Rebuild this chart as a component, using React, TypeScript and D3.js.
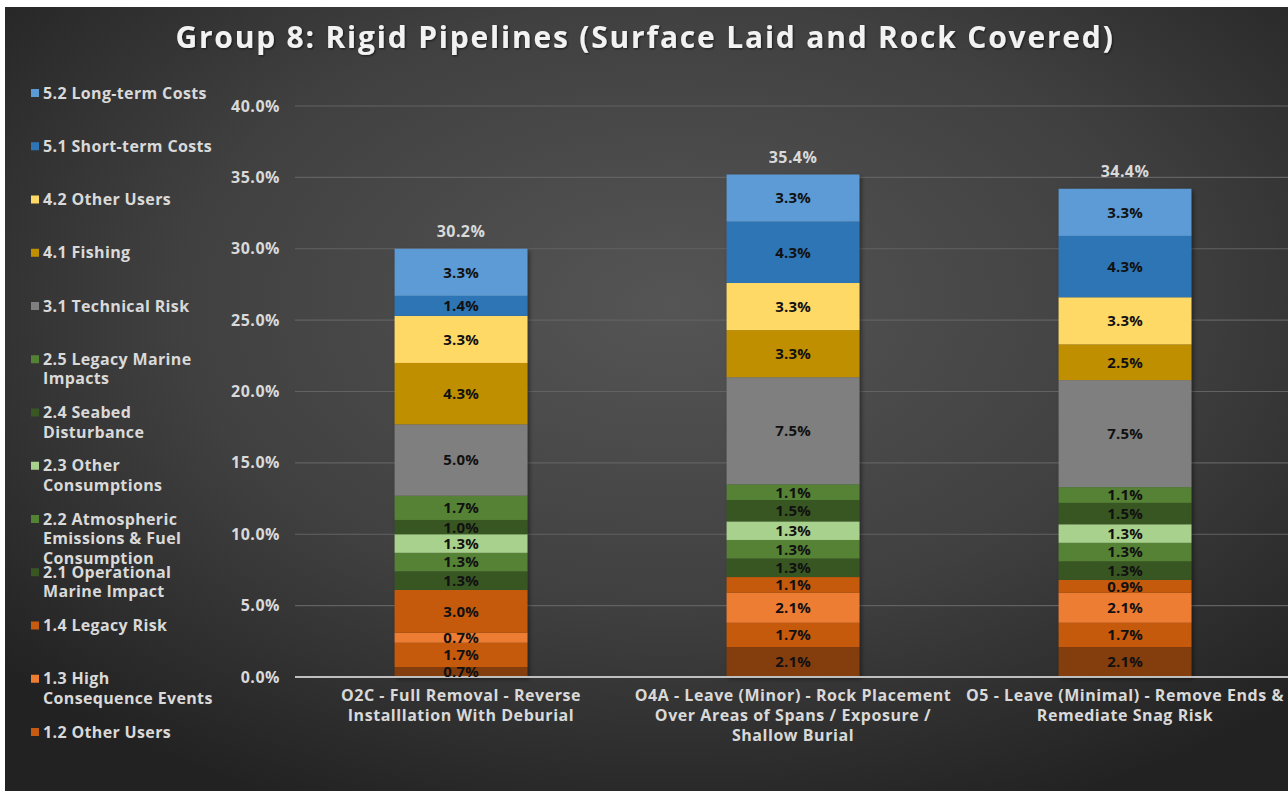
import * as d3 from 'd3'

const categories = [
  ['O2C - Full Removal - Reverse', 'Installlation With Deburial'],
  ['O4A - Leave (Minor) - Rock Placement', 'Over Areas of Spans / Exposure /', 'Shallow Burial'],
  ['O5 - Leave (Minimal) - Remove Ends &', 'Remediate Snag Risk'],
]

// stacking order, bottom to top
const seriesKeys = [
  '1.1', '1.2 Other Users', '1.3 High Consequence Events', '1.4 Legacy Risk',
  '2.1 Operational Marine Impact', '2.2 Atmospheric Emissions & Fuel Consumption',
  '2.3 Other Consumptions', '2.4 Seabed Disturbance', '2.5 Legacy Marine Impacts',
  '3.1 Technical Risk', '4.1 Fishing', '4.2 Other Users',
  '5.1 Short-term Costs', '5.2 Long-term Costs',
]
const seriesColors = [
  '#843c0c', '#c55a11', '#ed7d31', '#c55a11',
  '#385723', '#548235', '#a9d18e', '#385723', '#548235',
  '#7f7f7f', '#bf8f00', '#ffd966', '#2e75b6', '#5b9bd5',
]
const s11 = [0.7, 2.1, 2.1]
const s12 = [1.7, 1.7, 1.7]
const s13 = [0.7, 2.1, 2.1]
const s14 = [3.0, 1.1, 0.9]
const s21 = [1.3, 1.3, 1.3]
const s22 = [1.3, 1.3, 1.3]
const s23 = [1.3, 1.3, 1.3]
const s24 = [1.0, 1.5, 1.5]
const s25 = [1.7, 1.1, 1.1]
const s31 = [5.0, 7.5, 7.5]
const s41 = [4.3, 3.3, 2.5]
const s42 = [3.3, 3.3, 3.3]
const s51 = [1.4, 4.3, 4.3]
const s52 = [3.3, 3.3, 3.3]
const seriesValues = [s11, s12, s13, s14, s21, s22, s23, s24, s25, s31, s41, s42, s51, s52]
const totals = [30.2, 35.4, 34.4]

// legend as shown (top to bottom), 1.1 is cut off in the original
const legendItems = [
  { key: '5.2 Long-term Costs', lines: ['5.2 Long-term Costs'] },
  { key: '5.1 Short-term Costs', lines: ['5.1 Short-term Costs'] },
  { key: '4.2 Other Users', lines: ['4.2 Other Users'] },
  { key: '4.1 Fishing', lines: ['4.1 Fishing'] },
  { key: '3.1 Technical Risk', lines: ['3.1 Technical Risk'] },
  { key: '2.5 Legacy Marine Impacts', lines: ['2.5 Legacy Marine', 'Impacts'] },
  { key: '2.4 Seabed Disturbance', lines: ['2.4 Seabed', 'Disturbance'] },
  { key: '2.3 Other Consumptions', lines: ['2.3 Other', 'Consumptions'] },
  { key: '2.2 Atmospheric Emissions & Fuel Consumption', lines: ['2.2 Atmospheric', 'Emissions & Fuel', 'Consumption'] },
  { key: '2.1 Operational Marine Impact', lines: ['2.1 Operational', 'Marine Impact'] },
  { key: '1.4 Legacy Risk', lines: ['1.4 Legacy Risk'] },
  { key: '1.3 High Consequence Events', lines: ['1.3 High', 'Consequence Events'] },
  { key: '1.2 Other Users', lines: ['1.2 Other Users'] },
]
const yTicks = [0, 5, 10, 15, 20, 25, 30, 35, 40]

const W = 1288
const H = 791
const FONT = "'Open Sans', 'DejaVu Sans', sans-serif"

export default function App() {
  const rows = categories.map((c, i) => {
    const r: Record<string, number> = { idx: i }
    seriesKeys.forEach((k, j) => { r[k] = seriesValues[j][i] })
    return r
  })
  const stacked = d3.stack<Record<string, number>>().keys(seriesKeys)(rows)

  const x = d3.scaleBand<number>()
    .domain(categories.map((_, i) => i))
    .range([295, 1291])
    .paddingInner(0.6)
    .paddingOuter(0.3)
  const y = d3.scaleLinear().domain([0, 40]).range([677, 106])
  const color = d3.scaleOrdinal<string, string>().domain(seriesKeys).range(seriesColors)
  const cx = (i: number) => (x(i) ?? 0) + x.bandwidth() / 2

  return (
    <svg width={W} height={H} style={{ position: 'fixed', left: 0, top: 0, fontFamily: FONT }}>
      <defs>
        <radialGradient id="bg" cx="52%" cy="38%" r="70%">
          <stop offset="0%" stopColor="#555555" />
          <stop offset="55%" stopColor="#404040" />
          <stop offset="100%" stopColor="#222222" />
        </radialGradient>
        <filter id="shadow" x="-10%" y="-10%" width="130%" height="130%">
          <feDropShadow dx="2" dy="2" stdDeviation="2" floodColor="#000" floodOpacity="0.45" />
        </filter>
        <filter id="tshadow">
          <feDropShadow dx="1" dy="1" stdDeviation="1" floodColor="#000" floodOpacity="0.6" />
        </filter>
      </defs>
      <rect width={W} height={H} fill="#ffffff" />
      <rect x={5} y={7} width={W - 5} height={H - 7} fill="url(#bg)" />

      <text x={645} y={48} textAnchor="middle" fill="#f2f2f2" fontSize={30} fontWeight={700}
        letterSpacing={1.8} filter="url(#tshadow)">
        Group 8: Rigid Pipelines (Surface Laid and Rock Covered)
      </text>

      {yTicks.map(t => (
        <g key={t}>
          {t > 0 && <line x1={295} x2={W} y1={y(t)} y2={y(t)} stroke="#626262" strokeWidth={1.2} />}
          <text x={280} y={y(t)} dy="0.35em" textAnchor="end" fill="#d9d9d9" fontSize={16} fontWeight={700}
            letterSpacing={0.5}>
            {d3.format('.1f')(t)}%
          </text>
        </g>
      ))}

      <g filter="url(#shadow)">
        {stacked.map(s => (
          <g key={s.key} fill={color(s.key)}>
            {s.map((d, i) => (
              <rect key={i} x={x(i)} y={y(d[1])} width={x.bandwidth()} height={y(d[0]) - y(d[1])} />
            ))}
          </g>
        ))}
      </g>

      <line x1={295} x2={W} y1={y(0)} y2={y(0)} stroke="#bfbfbf" strokeWidth={2} />

      {stacked.map(s => (
        <g key={s.key}>
          {s.map((d, i) => (
            <text key={i} x={cx(i)} y={(y(d[0]) + y(d[1])) / 2} dy="0.36em"
              textAnchor="middle" fill="#111111" fontSize={15} fontWeight={700} letterSpacing={0.2}>
              {d3.format('.1f')(d[1] - d[0])}%
            </text>
          ))}
        </g>
      ))}

      {totals.map((t, i) => {
        const top = stacked[stacked.length - 1][i][1]
        return (
          <text key={i} x={cx(i)} y={y(top) - 17} dy="0.35em"
            textAnchor="middle" fill="#d9d9d9" fontSize={16} fontWeight={700} letterSpacing={0.4}>
            {d3.format('.1f')(t)}%
          </text>
        )
      })}

      {categories.map((lines, i) => (
        <text key={i} x={cx(i)} y={701} textAnchor="middle"
          fill="#d9d9d9" fontSize={16} fontWeight={700} letterSpacing={0.55}>
          {lines.map((l, j) => (
            <tspan key={j} x={cx(i)} dy={j === 0 ? 0 : 20}>{l}</tspan>
          ))}
        </text>
      ))}

      {legendItems.map((it, i) => {
        const cy = 93 + i * 53.25
        return (
          <g key={it.key}>
            <rect x={31} y={cy - 4} width={8} height={8} fill={color(it.key)} />
            <text x={43} y={cy} fill="#d9d9d9" fontSize={16} fontWeight={700} letterSpacing={0.35}>
              {it.lines.map((l, j) => (
                <tspan key={j} x={43} dy={j === 0 ? '0.35em' : 19.5}>{l}</tspan>
              ))}
            </text>
          </g>
        )
      })}
    </svg>
  )
}
